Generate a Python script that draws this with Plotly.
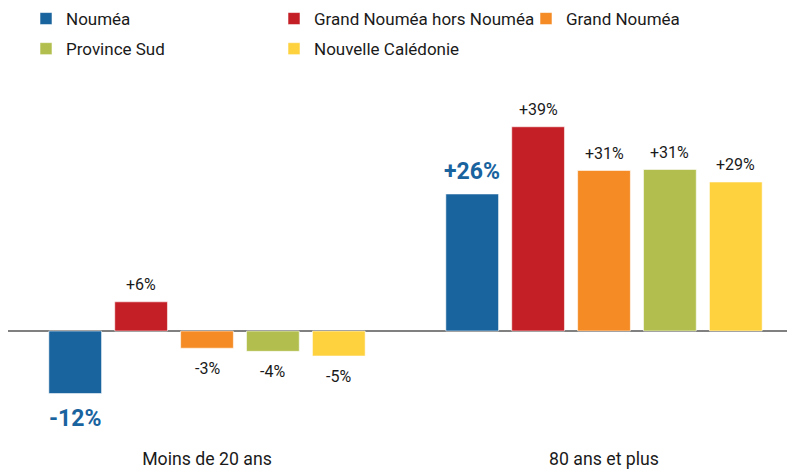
import plotly.graph_objects as go

categories = ["Moins de 20 ans", "80 ans et plus"]
series_names = ["Nouméa", "Grand Nouméa hors Nouméa", "Grand Nouméa", "Province Sud", "Nouvelle Calédonie"]
noumea = [-12.0, 26.3]
grand_hors = [5.6, 39.2]
grand_noumea = [-3.3, 30.8]
province_sud = [-3.9, 31.0]
nouvelle_caledonie = [-4.8, 28.6]
labels_noumea = ["-12%", "+26%"]
labels_grand_hors = ["+6%", "+39%"]
labels_grand_noumea = ["-3%", "+31%"]
labels_province_sud = ["-4%", "+31%"]
labels_nc = ["-5%", "+29%"]

colors = ["#19639e", "#c41f26", "#f48b24", "#b2be4d", "#fed23f"]
values = [noumea, grand_hors, grand_noumea, province_sud, nouvelle_caledonie]
labels = [labels_noumea, labels_grand_hors, labels_grand_noumea, labels_province_sud, labels_nc]
legend_ids = ["legend", "legend2", "legend3", "legend", "legend2"]

# The page body has an 8px margin: work in page pixels and convert.
OFF = 8
PAGE_W, PAGE_H = 795, 471
W, H = PAGE_W - OFF, PAGE_H - OFF
BARGAP = 0.17
BARGROUPGAP = 0.2
FONT = "Roboto"

fig = go.Figure()
for i, (name, vals) in enumerate(zip(series_names, values)):
    fig.add_trace(go.Bar(
        name=name, x=categories, y=vals,
        marker=dict(color=colors[i], line=dict(color="rgba(255,255,255,0.55)", width=1)),
        legend=legend_ids[i], legendgroup=name,
        hoverinfo="skip",
    ))

# value labels
slot = (1 - BARGAP) / len(series_names)
annotations = []
for i, (vals, labs) in enumerate(zip(values, labels)):
    for c, (v, lab) in enumerate(zip(vals, labs)):
        xpos = c + (i - (len(series_names) - 1) / 2) * slot
        if i == 0:
            fnt = dict(family=FONT, size=23, color=colors[0])
            text = "<b>%s</b>" % lab
            shift = 22 if v > 0 else -25
        else:
            fnt = dict(family=FONT, size=16, color="#1a1a1a")
            text = lab
            shift = 17 if v > 0 else -20
        annotations.append(dict(
            x=xpos, y=v, xref="x", yref="y", text=text, showarrow=False,
            font=fnt, yanchor="middle", xanchor="center", yshift=shift,
        ))

# page-pixel geometry
plot_left, plot_top, plot_bottom, zero_px, px_per_unit = 8, 90, 446, 331, 5.21
c0_px, c1_px = 207, 604
yr = [-(plot_bottom - zero_px) / px_per_unit, (zero_px - plot_top) / px_per_unit]
unit = c1_px - c0_px
xr = [-(c0_px - plot_left) / unit, (PAGE_W - c0_px) / unit]
pw, ph = PAGE_W - plot_left, plot_bottom - plot_top


def lx(px):
    return (px - plot_left) / pw


def ly(py):
    return (plot_bottom - py) / ph


legend_common = dict(
    orientation="v", xanchor="left", yanchor="top", bgcolor="rgba(0,0,0,0)",
    font=dict(family=FONT, size=17, color="#1a1a1a"),
    traceorder="grouped", tracegroupgap=5, itemclick=False, itemdoubleclick=False,
)
fig.update_layout(
    width=W, height=H,
    margin=dict(l=plot_left - OFF, r=0, t=plot_top - OFF, b=PAGE_H - plot_bottom, autoexpand=False),
    paper_bgcolor="white", plot_bgcolor="white",
    barmode="group", bargap=BARGAP, bargroupgap=BARGROUPGAP,
    font=dict(family=FONT, color="#1a1a1a"),
    showlegend=True,
    legend=dict(legend_common, x=lx(26), y=ly(1)),
    legend2=dict(legend_common, x=lx(274), y=ly(1)),
    legend3=dict(legend_common, x=lx(526), y=ly(1)),
    annotations=annotations,
    xaxis=dict(range=xr, showgrid=False, zeroline=False, showline=False, ticks="",
               tickfont=dict(family=FONT, size=17.7, color="#1a1a1a"), fixedrange=True),
    yaxis=dict(range=yr, showgrid=False, zeroline=True, zerolinecolor="#808080", zerolinewidth=2,
               showticklabels=False, showline=False, ticks="", fixedrange=True),
)
fig.write_html("out.html")
